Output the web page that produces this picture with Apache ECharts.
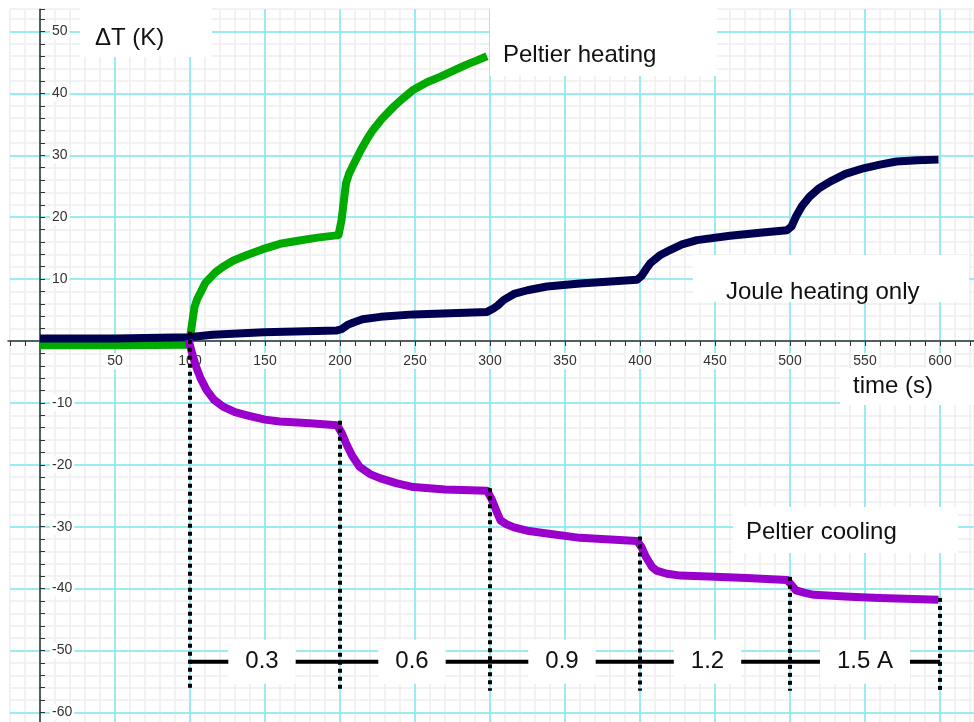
<!DOCTYPE html>
<html>
<head>
<meta charset="utf-8">
<script src="https://cdn.jsdelivr.net/npm/echarts@6/dist/echarts.min.js"></script>
<style>
  html, body { margin: 0; padding: 0; background: #fff; }
  #chart { width: 974px; height: 722px; }
</style>
</head>
<body>
<div id="chart"></div>
<script>
// Peltier heating (green)
const heatT = [0, 50, 99, 100, 101.5, 103, 105, 107, 110, 113, 117, 122, 129, 138, 148, 160, 172, 185, 199, 201, 202.5, 204, 206, 209, 214, 218, 222, 228, 236, 242, 249, 258, 267, 276, 284, 291, 298];
const heatV = [-0.7, -0.7, -0.6, 0.5, 3.0, 5.5, 6.9, 7.8, 9.3, 10.1, 11.1, 12.0, 13.0, 13.9, 14.8, 15.7, 16.2, 16.7, 17.1, 19.5, 22.5, 25.5, 27.0, 28.5, 30.9, 32.6, 34.1, 35.9, 37.9, 39.2, 40.6, 41.8, 42.7, 43.7, 44.6, 45.3, 46.0];
// Joule heating only (navy)
const jouleT = [0, 50, 99, 115, 149, 198, 201, 205, 209, 215, 227, 249, 298, 302, 305, 309, 316, 325, 338, 360, 398, 401, 404, 407, 413, 420, 428, 438, 460, 480, 498, 501, 504, 508, 513, 519, 527, 537, 549, 560, 571, 585, 599];
const jouleV = [0.4, 0.4, 0.6, 1.0, 1.4, 1.7, 1.9, 2.6, 3.0, 3.5, 3.9, 4.3, 4.7, 5.2, 5.7, 6.6, 7.6, 8.2, 8.8, 9.3, 9.9, 10.5, 11.6, 12.6, 13.8, 14.7, 15.6, 16.3, 17.0, 17.5, 17.9, 18.5, 20.1, 21.8, 23.3, 24.6, 25.8, 27.0, 27.9, 28.5, 29.0, 29.2, 29.3];
// Peltier cooling (purple)
const coolT = [99, 100, 102, 104, 107, 111, 116, 122, 130, 138, 150, 160, 180, 198, 201, 204, 208, 213, 220, 227, 238, 249, 270, 298, 301, 304, 307, 311, 316, 326, 338, 360, 398, 401, 404, 408, 411, 418, 427, 450, 471, 498, 501, 504, 510, 516, 540, 560, 599];
const coolV = [0.2, 0, -2.5, -4.1, -6.0, -7.9, -9.5, -10.6, -11.5, -12.0, -12.7, -13.0, -13.3, -13.6, -14.8, -16.5, -18.5, -20.3, -21.5, -22.2, -23.0, -23.6, -24.0, -24.2, -25.5, -27.3, -29.0, -29.6, -30.1, -30.7, -31.1, -31.8, -32.3, -33.3, -34.9, -36.5, -37.1, -37.6, -37.9, -38.1, -38.3, -38.6, -39.4, -40.3, -40.7, -41.0, -41.3, -41.5, -41.8];

// current steps
const dropT = [100, 200, 300, 400, 500, 600];
const dropTop = [1.5, -12.9, -23.8, -31.6, -38.1, -41.5];
const dropBottom = -56.5;
const currentLevel = -51.8;
const currentX = [148, 248, 348, 445, 550];
const currentText = ['0.3', '0.6', '0.9', '1.2', '1.5 A'];

// tick labels
const xLabels = [50, 100, 150, 200, 250, 300, 350, 400, 450, 500, 550, 600];
const yLabels = [-60, -50, -40, -30, -20, -10, 10, 20, 30, 40, 50];

const FONT = '"Liberation Sans", Arial, sans-serif';
const CYAN = '#7fe8f0';
const GREY = '#eeeeee';

// x: 0 -> px 40, 1.5 px per s ; y: 0 -> px 341, 6.19 px per K
const X_MIN = -20, X_MAX = 622.67, Y_MIN = -62, Y_MAX = 53.6;
const TOP = 9.2, HEIGHT = 715.6;

function pairs(t, v) {
  return t.map((x, i) => [x, v[i]]);
}

function curve(name, t, v, color) {
  return {
    type: 'line', name: name, xAxisIndex: 0, yAxisIndex: 0,
    data: pairs(t, v), showSymbol: false,
    lineStyle: { color: color, width: 8, join: 'round' }, itemStyle: { color: color }, z: 3
  };
}

// dotted verticals at each current switch
const drops = dropT.map((t, i) => ({
  type: 'line', xAxisIndex: 0, yAxisIndex: 0,
  data: [[t, dropTop[i]], [t, dropBottom]], showSymbol: false,
  lineStyle: { color: '#000', width: 4, type: 'dotted' }, z: 4
}));

function box(x, y, w, h) {
  return { type: 'rect', z: 2, shape: { x: x, y: y, width: w, height: h }, style: { fill: '#fff' } };
}
function txt(s, x, y) {
  return { type: 'text', z: 2, style: { text: s, x: x, y: y, fontSize: 24, fontFamily: FONT, fill: '#111', verticalAlign: 'middle' } };
}
function hidden(gridIndex, min, max) {
  return { gridIndex: gridIndex, type: 'value', min: min, max: max, show: false };
}
function lines(gridIndex, min, max, interval, color, z) {
  return {
    gridIndex: gridIndex, type: 'value', min: min, max: max, interval: interval, z: z,
    axisLine: { show: false }, axisTick: { show: false }, axisLabel: { show: false },
    splitLine: { show: true, lineStyle: { color: color, width: 1.5 } }
  };
}

const g = (left, top, width, height) => ({ left: left, top: top, width: width, height: height, outerBoundsMode: 'none', containLabel: false });

const chart = echarts.init(document.getElementById('chart'));
chart.setOption({
  animation: false,
  backgroundColor: '#fff',
  grid: [
    g(10, TOP, 964, HEIGHT),        // data
    g(10, TOP, 964, HEIGHT),        // minor grey grid
    g(-35, TOP, 975, HEIGHT),       // cyan verticals (-50..600)
    g(10, 31.5, 964, 742.8),        // cyan horizontals (-70..50)
    g(40, TOP, 934, HEIGHT),        // y axis at t = 0
    g(8, TOP, 966, 331.8)           // x axis at dT = 0
  ],
  xAxis: [
    hidden(0, X_MIN, X_MAX),
    lines(1, X_MIN, X_MAX, 10, GREY, 0),
    lines(2, -50, 600, 50, CYAN, 1),
    hidden(3, 0, 1),
    hidden(4, 0, 1),
    {
      gridIndex: 5, type: 'value', min: -21.33, max: X_MAX, z: 2, position: 'bottom',
      axisLine: { show: true, lineStyle: { color: '#333', width: 1.5 } },
      axisTick: { customValues: [-20, -10, 0, 10, 20, 30, 40, 50, 60, 70, 80, 90, 100, 110, 120, 130, 140, 150, 160, 170, 180, 190, 200, 210, 220, 230, 240, 250, 260, 270, 280, 290, 300, 310, 320, 330, 340, 350, 360, 370, 380, 390, 400, 410, 420, 430, 440, 450, 460, 470, 480, 490, 500, 510, 520, 530, 540, 550, 560, 570, 580, 590, 600, 610, 620], length: 5, lineStyle: { color: '#333' } },
      axisLabel: {
        customValues: xLabels, margin: 12, fontSize: 14, fontFamily: FONT, color: '#333',
        backgroundColor: '#fff', padding: [1, 2]
      },
      splitLine: { show: false }
    }
  ],
  yAxis: [
    hidden(0, Y_MIN, Y_MAX),
    lines(1, Y_MIN, Y_MAX, 2, GREY, 0),
    hidden(2, 0, 1),
    lines(3, -70, 50, 10, CYAN, 1),
    {
      gridIndex: 4, type: 'value', min: Y_MIN, max: Y_MAX, interval: 2, z: 2, position: 'left',
      axisLine: { show: true, lineStyle: { color: '#333', width: 1.5 } },
      axisTick: { inside: true, length: 5, lineStyle: { color: '#333' } },
      axisLabel: {
        customValues: yLabels, inside: true, margin: 10, fontSize: 14, fontFamily: FONT, color: '#333',
        backgroundColor: '#fff', padding: [1, 2]
      },
      splitLine: { show: false }
    },
    hidden(5, 0, 1)
  ],
  graphic: [
    box(80, 0, 132, 57), txt('ΔT (K)', 95, 38),
    box(490, 0, 227, 76), txt('Peltier heating', 503, 55),
    box(693, 255, 276, 47), txt('Joule heating only', 726, 292),
    box(840, 368, 134, 37), txt('time (s)', 853, 386),
    box(733, 507, 225, 46), txt('Peltier cooling', 746, 532)
  ],
  series: [
    curve('Peltier heating', heatT, heatV, '#00aa00'),
    curve('Joule heating only', jouleT, jouleV, '#000050'),
    curve('Peltier cooling', coolT, coolV, '#9900cc'),
    ...drops,
    {
      type: 'line', xAxisIndex: 0, yAxisIndex: 0,
      data: [[dropT[0], currentLevel], [dropT[dropT.length - 1], currentLevel]], showSymbol: false,
      lineStyle: { color: '#000', width: 4 }, z: 4
    },
    {
      type: 'scatter', xAxisIndex: 0, yAxisIndex: 0, symbolSize: 0, z: 5,
      itemStyle: { opacity: 1 },
      data: currentX.map((x, i) => ({ value: [x, currentLevel], name: currentText[i] })),
      label: {
        show: true, position: 'inside', formatter: '{b}', opacity: 1,
        fontSize: 24, lineHeight: 24, fontFamily: FONT, color: '#111',
        backgroundColor: '#fff', padding: [10, 17]
      }
    }
  ]
});
</script>
</body>
</html>
